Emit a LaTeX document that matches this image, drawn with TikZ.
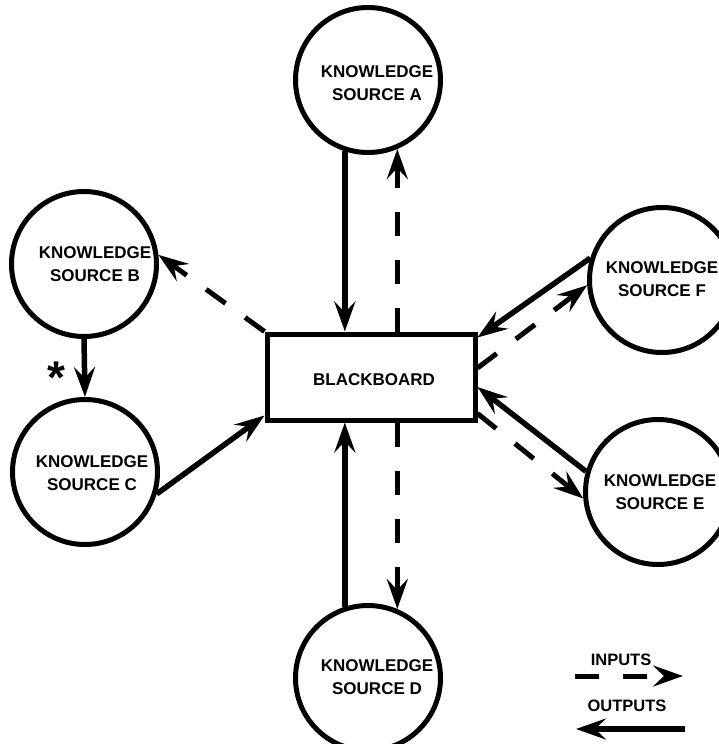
\documentclass[tikz,border=0pt]{standalone}
\usepackage{fontspec}
\setmainfont{Liberation Sans}
\usetikzlibrary{arrows.meta}
\begin{document}
\begin{tikzpicture}[x=1pt,y=-1pt,
  ks/.style={circle,draw,line width=5pt,minimum size=145pt,inner sep=0pt},
  kstext/.style={font=\fontsize{17}{23}\selectfont\bfseries,align=center,inner sep=0pt},
  board/.style={draw,line width=5pt,minimum width=208pt,minimum height=86pt,inner sep=0pt},
  tipend/.style={-{Stealth[length=30pt,width=21pt,inset=11pt]}},
  outarrow/.style={tipend,line width=5.5pt},
  inarrow/.style={tipend,line width=5pt,dash pattern=on 24pt off 24pt},
  legtext/.style={font=\fontsize{16.5}{20}\selectfont\bfseries,inner sep=0pt},
]
\useasboundingbox (0,0) rectangle (719,744);
\fill[white] (0,0) rectangle (719,744);

% circles
\node[ks] (A) at (368,80) {};
\node[ks] (B) at (84,264) {};
\node[ks] (C) at (85,472) {};
\node[ks] (D) at (368,678) {};
\node[ks] (E) at (658,492) {};
\node[ks] (F) at (662,280) {};

% circle texts
\node[kstext] (tA) at (377,83) {KNOWLEDGE\\SOURCE A};
\node[kstext] (tB) at (95,264) {KNOWLEDGE\\SOURCE B};
\node[kstext] (tC) at (92,473) {KNOWLEDGE\\SOURCE C};
\node[kstext] (tD) at (377,677) {KNOWLEDGE\\SOURCE D};
\node[kstext] (tE) at (660,492) {KNOWLEDGE\\SOURCE E};
\node[kstext] (tF) at (662,279) {KNOWLEDGE\\SOURCE F};

% blackboard
\node[board] (bb) at (371,377) {};
\node[kstext] (tbb) at (374,380) {BLACKBOARD};

% connectors
\draw[outarrow] (A.252) -- (A.252 |- bb.north);
\draw[inarrow] (A.293 |- bb.north) -- (A.293);
\draw[outarrow] (D.108) -- (D.108 |- bb.south);
\draw[inarrow] (D.67 |- bb.south) -- (D.67);
\draw[outarrow] (B.south) -- (C.north);
\draw[inarrow] (bb.north west) -- (B.7);
\draw[outarrow] (C.-17) -- ([yshift=7pt]bb.south west);
\draw[outarrow] (F.163) -- ([yshift=-6pt]bb.north east);
\draw[inarrow] ([yshift=9pt]bb.east) -- (F.184);
\draw[outarrow] (E.164) -- ([yshift=-10pt]bb.east);
\draw[inarrow] ([yshift=9pt]bb.south east) -- (E.185);

% asterisk
\node[font=\fontsize{46}{48}\selectfont\bfseries,inner sep=0pt,anchor=base] (star) at (56,393) {*};

% legend
\node[legtext] (lin) at (621,660) {INPUTS};
\node[legtext] (lout) at (627,706) {OUTPUTS};
\coordinate (in1) at (575,676);
\coordinate (in2) at (683,676);
\coordinate (out1) at (685,729);
\coordinate (out2) at (576,729);
\draw[inarrow] (in1) -- (in2);
\draw[outarrow] (out1) -- (out2);
\end{tikzpicture}
\end{document}
